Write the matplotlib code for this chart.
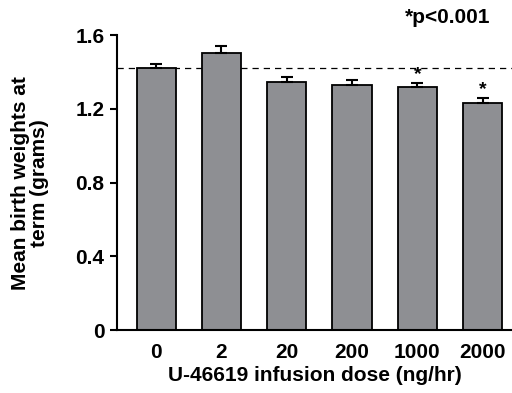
import matplotlib as mpl

mpl.use("Agg")
import matplotlib.pyplot as plt  # noqa: E402

plt.rcParams.update({
    "font.family": ["Liberation Sans", "DejaVu Sans"],
    "font.weight": "bold",
    "axes.labelweight": "bold",
    "font.size": 15,
})

doses = ["0", "2", "20", "200", "1000", "2000"]
weights = [1.421, 1.504, 1.345, 1.329, 1.320, 1.233]
sem = [0.023, 0.039, 0.027, 0.027, 0.021, 0.025]
significant = [False, False, False, False, True, True]
control_level = 1.42

GRAY = "#8e8f93"

fig = plt.figure(figsize=(5.12, 3.93), dpi=100)
ax = fig.add_axes([0.2285, 0.160, 0.7715, 0.7506])

x = list(range(len(doses)))
ax.bar(x, weights, width=0.6, color=GRAY, edgecolor="black", linewidth=1.3,
       zorder=2)
ax.errorbar(x, weights, yerr=[[0] * len(sem), sem], fmt="none", ecolor="black",
            elinewidth=1.5, capsize=4, capthick=1.5, zorder=3)
for xi, w, s, sig in zip(x, weights, sem, significant):
    if sig:
        ax.text(xi, w + s + 0.0, "*", ha="center", va="bottom", fontsize=14)

ax.axhline(control_level, color="black", lw=0.9, ls=(0, (5, 4)), zorder=1)

ax.set_xlim(-0.6, 5.45)
ax.set_ylim(0, 1.6)
ax.set_yticks([0, 0.4, 0.8, 1.2, 1.6])
ax.set_yticklabels(["0", "0.4", "0.8", "1.2", "1.6"])
ax.set_xticks(x)
ax.set_xticklabels(doses)
ax.tick_params(axis="x", length=0, pad=9)
ax.tick_params(axis="y", length=5, width=1.5, pad=4)
for side in ("top", "right"):
    ax.spines[side].set_visible(False)
for side in ("left", "bottom"):
    ax.spines[side].set_linewidth(1.5)

ax.set_xlabel("U-46619 infusion dose (ng/hr)", labelpad=3)
ax.set_ylabel("Mean birth weights at\nterm (grams)", labelpad=19,
              linespacing=1.0)
fig.text(0.957, 0.955, "*p<0.001", ha="right", va="center", fontsize=15,
         fontweight="bold")

fig.savefig("out.png", dpi=100)
